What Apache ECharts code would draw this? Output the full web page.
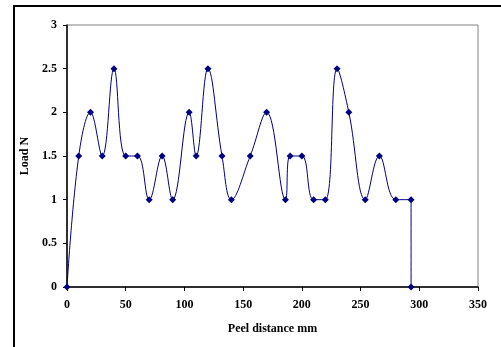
<!DOCTYPE html>
<html>
<head>
<meta charset="utf-8">
<script src="https://cdn.jsdelivr.net/npm/echarts@6/dist/echarts.min.js"></script>
<style>html,body{margin:0;padding:0;background:#fff;}#c{width:501px;height:347px;}</style>
</head>
<body>
<div id="c"></div>
<script>
var peelDistance = [0, 10, 20, 30, 40, 50, 60, 70, 81, 90, 104, 110, 120, 132, 140, 156, 170, 186, 190, 200, 210, 220, 230, 240, 254, 266, 280, 293, 293];
var loadN =        [0, 1.5, 2, 1.5, 2.5, 1.5, 1.5, 1, 1.5, 1, 2, 1.5, 2.5, 1.5, 1, 1.5, 2, 1, 1.5, 1.5, 1, 1, 2.5, 2, 1, 1.5, 1, 1, 0];
var xTitle = 'Peel distance mm';
var yTitle = 'Load N';

var pts = peelDistance.map(function (x, i) { return [x, loadN[i]]; });
var font = 'Liberation Serif';
var chart = echarts.init(document.getElementById('c'), null, {renderer: 'canvas'});
chart.setOption({
  animation: false,
  backgroundColor: '#fff',
  grid: {left: 67, top: 25, right: 23, bottom: 60, show: true, borderColor: '#808080', borderWidth: 1, backgroundColor: 'transparent'},
  graphic: [{
    type: 'rect', shape: {x: 14, y: 6, width: 700, height: 600},
    style: {fill: 'none', stroke: '#000', lineWidth: 2}, z: 100
  }],
  xAxis: {
    type: 'value', min: 0, max: 350, interval: 50,
    name: xTitle, nameLocation: 'middle', nameGap: 36,
    nameTextStyle: {fontFamily: font, fontWeight: 'bold', fontSize: 12, color: '#000'},
    axisLine: {show: true, onZero: false, lineStyle: {color: '#000', width: 1.5}},
    axisTick: {show: true, inside: false, length: 4, lineStyle: {color: '#000'}},
    axisLabel: {fontFamily: font, fontWeight: 'bold', fontSize: 12, color: '#000', margin: 12},
    splitLine: {show: false}
  },
  yAxis: {
    type: 'value', min: 0, max: 3, interval: 0.5,
    name: yTitle, nameLocation: 'middle', nameGap: 34,
    nameTextStyle: {fontFamily: font, fontWeight: 'bold', fontSize: 12, color: '#000'},
    axisLine: {show: true, lineStyle: {color: '#000', width: 1.5}},
    axisTick: {show: true, inside: false, length: 4, lineStyle: {color: '#000'}},
    axisLabel: {fontFamily: font, fontWeight: 'bold', fontSize: 12, color: '#000', margin: 10},
    splitLine: {show: false}
  },
  series: [{
    type: 'line', data: pts, smooth: 0.4,
    symbol: 'diamond', symbolSize: 7, showAllSymbol: true,
    lineStyle: {color: '#000080', width: 1},
    itemStyle: {color: '#000080'},
    clip: false
  }]
});
</script>
</body>
</html>
